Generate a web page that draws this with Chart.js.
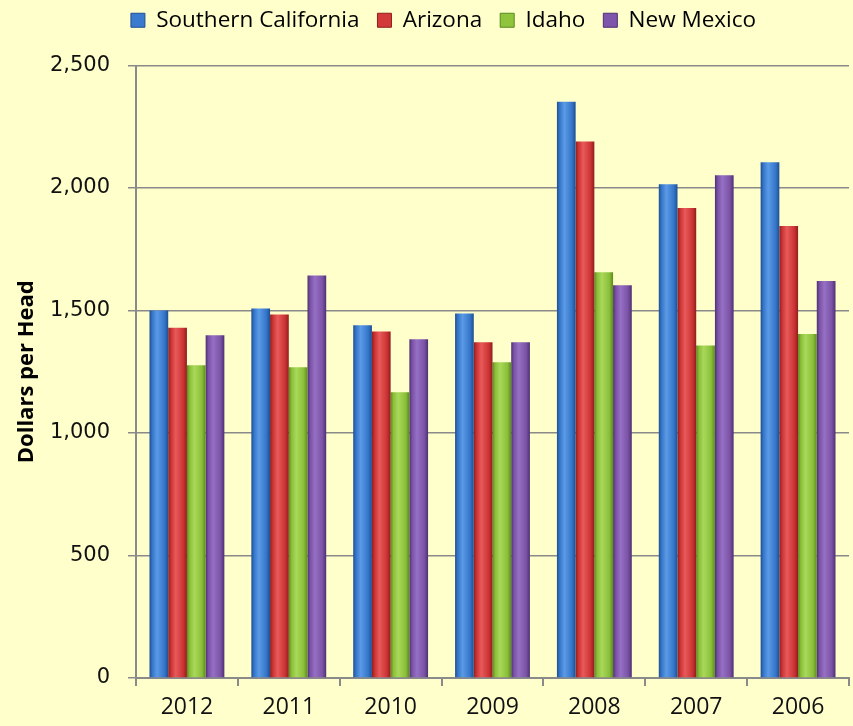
<!DOCTYPE html>
<html>
<head>
<meta charset="utf-8">
<script src="https://cdn.jsdelivr.net/npm/chart.js@4/dist/chart.umd.min.js"></script>
<style>
  html, body { margin: 0; padding: 0; background: #ffffcc; }
  #wrap { width: 853px; height: 726px; }
</style>
</head>
<body>
<div id="wrap"><canvas id="chart" width="853" height="726"></canvas></div>
<script>
const years = ['2012', '2011', '2010', '2009', '2008', '2007', '2006'];
const socal = [1500, 1508, 1440, 1488, 2352, 2015, 2105];
const arizona = [1430, 1484, 1414, 1370, 2190, 1918, 1845];
const idaho = [1277, 1268, 1166, 1289, 1656, 1357, 1404];
const newMexico = [1399, 1643, 1383, 1370, 1603, 2052, 1620];
const yTicks = [0, 500, 1000, 1500, 2000, 2500];

// flat colour, then dark edge / light / mid for the bevelled look
const palette = [
  ['#3a7bd0', '#1e4e92', '#5a9ae6', '#3576ca'],
  ['#d23a3a', '#8e1e1e', '#e85a5a', '#cc3333'],
  ['#8fc43c', '#5a8a1e', '#a9d85a', '#8abf38'],
  ['#7d55aa', '#4e3072', '#9670c4', '#7a52a6']
];

function barFill(ctx, i) {
  const el = ctx.element;
  const c = palette[i];
  if (!el || !el.width) return c[0];
  const x0 = el.x - el.width / 2, x1 = el.x + el.width / 2;
  const g = ctx.chart.ctx.createLinearGradient(x0, 0, x1, 0);
  g.addColorStop(0, c[1]);
  g.addColorStop(0.15, c[3]);
  g.addColorStop(0.4, c[2]);
  g.addColorStop(0.8, c[3]);
  g.addColorStop(1, c[1]);
  return g;
}

const names = ['Southern California', 'Arizona', 'Idaho', 'New Mexico'];
const series = [socal, arizona, idaho, newMexico];

// move the legend up and a bit to the right like the original
const legendShift = {
  id: 'legendShift',
  afterLayout(chart) {
    const lg = chart.legend;
    lg.left += 19;
    lg.right += 19;
    lg.top -= 24;
    lg.bottom -= 24;
  }
};

const chart = new Chart(document.getElementById('chart'), {
  type: 'bar',
  data: {
    labels: years,
    datasets: series.map((d, i) => ({
      label: names[i],
      data: d,
      backgroundColor: ctx => barFill(ctx, i),
      borderWidth: 0,
      categoryPercentage: 0.735,
      barPercentage: 1.0
    }))
  },
  options: {
    responsive: false,
    animation: false,
    layout: { padding: { top: 15, right: 4, bottom: 0, left: 0 } },
    plugins: {
      tooltip: { enabled: false },
      legend: {
        position: 'top',
        labels: {
          font: { family: 'Open Sans', size: 22.5 },
          color: '#111',
          boxWidth: 14,
          boxHeight: 14,
          padding: 18,
          generateLabels: ch => ch.data.datasets.map((ds, i) => ({
            text: ds.label,
            fillStyle: palette[i][0],
            strokeStyle: palette[i][1],
            lineWidth: 1,
            datasetIndex: i
          }))
        }
      }
    },
    scales: {
      x: {
        afterFit: s => { s.height = 48; },
        grid: { drawOnChartArea: false, drawTicks: true, tickLength: 8, color: '#8a8a8a', lineWidth: 2 },
        border: { color: '#8a8a8a', width: 2 },
        ticks: { font: { family: 'Open Sans', size: 23 }, color: '#111', padding: 8 }
      },
      y: {
        min: 0,
        max: 2500,
        afterBuildTicks: s => { s.ticks = yTicks.map(v => ({ value: v })); },
        afterFit: s => { s.width = 136; },
        grid: { color: '#8a8a8a', lineWidth: 1.5, tickLength: 8 },
        border: { color: '#8a8a8a', width: 2 },
        ticks: {
          font: { family: 'DejaVu Sans', size: 21 },
          color: '#111',
          padding: 18,
          callback: v => v.toLocaleString('en-US')
        },
        title: {
          display: true,
          text: 'Dollars per Head',
          font: { family: 'Open Sans', size: 22, weight: 'bold' },
          color: '#000',
          padding: { top: 14, bottom: 0 }
        }
      }
    }
  },
  plugins: [legendShift]
});
chart.update('none');
</script>
</body>
</html>
